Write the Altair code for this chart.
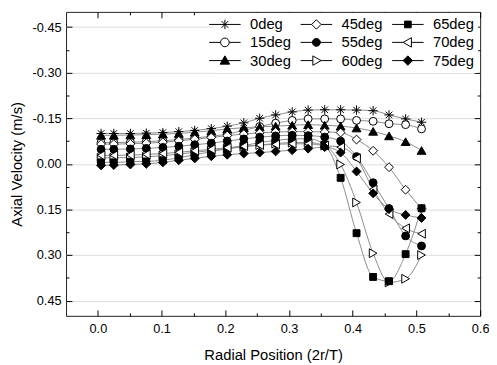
import altair as alt
import pandas as pd

# ---------------- data ----------------
x_pos = [0.005, 0.025, 0.051, 0.076, 0.102, 0.127, 0.152, 0.178, 0.203, 0.229, 0.254,
         0.279, 0.305, 0.330, 0.356, 0.381, 0.406, 0.432, 0.457, 0.483, 0.508]

series_names = ["0deg", "15deg", "30deg", "45deg", "55deg", "60deg", "65deg", "70deg", "75deg"]

v_0deg = [-0.100, -0.100, -0.100, -0.101, -0.103, -0.106, -0.110, -0.116, -0.124, -0.135, -0.150,
          -0.161, -0.171, -0.177, -0.178, -0.178, -0.177, -0.175, -0.161, -0.148, -0.137]
v_15deg = [-0.070, -0.070, -0.071, -0.073, -0.076, -0.080, -0.085, -0.091, -0.098, -0.110, -0.123,
           -0.134, -0.143, -0.148, -0.148, -0.148, -0.143, -0.140, -0.132, -0.129, -0.115]
v_30deg = [-0.094, -0.094, -0.095, -0.096, -0.098, -0.100, -0.104, -0.109, -0.115, -0.119, -0.122,
           -0.124, -0.127, -0.129, -0.127, -0.124, -0.118, -0.107, -0.092, -0.073, -0.044]
v_45deg = [-0.065, -0.065, -0.066, -0.068, -0.071, -0.076, -0.081, -0.087, -0.093, -0.098, -0.102,
           -0.105, -0.106, -0.106, -0.105, -0.103, -0.080, -0.043, 0.011, 0.085, 0.147]
v_55deg = [-0.048, -0.048, -0.049, -0.051, -0.054, -0.058, -0.063, -0.068, -0.075, -0.082, -0.088,
           -0.092, -0.094, -0.093, -0.088, -0.075, -0.024, 0.062, 0.147, 0.237, 0.270]
v_60deg = [-0.020, -0.020, -0.021, -0.023, -0.027, -0.032, -0.038, -0.044, -0.050, -0.056, -0.062,
           -0.067, -0.070, -0.070, -0.060, 0.002, 0.127, 0.294, 0.390, 0.378, 0.300]
v_65deg = [-0.005, -0.005, -0.007, -0.008, -0.012, -0.020, -0.030, -0.040, -0.050, -0.060, -0.070,
           -0.077, -0.082, -0.083, -0.062, 0.046, 0.228, 0.372, 0.386, 0.297, 0.146]
v_70deg = [-0.028, -0.028, -0.029, -0.031, -0.034, -0.038, -0.043, -0.048, -0.053, -0.058, -0.062,
           -0.064, -0.066, -0.066, -0.060, -0.055, -0.018, 0.084, 0.165, 0.212, 0.230]
v_75deg = [0.005, 0.004, 0.002, 0.000, -0.005, -0.012, -0.018, -0.025, -0.030, -0.034, -0.037,
           -0.041, -0.045, -0.050, -0.055, -0.037, 0.025, 0.097, 0.149, 0.168, 0.178]

x_ticks = [0.0, 0.1, 0.2, 0.3, 0.4, 0.5, 0.6]
x_minor = [0.05, 0.15, 0.25, 0.35, 0.45, 0.55]
y_ticks = [-0.45, -0.30, -0.15, 0.00, 0.15, 0.30, 0.45]
y_minor = [-0.375, -0.225, -0.075, 0.075, 0.225, 0.375]

all_values = [v_0deg, v_15deg, v_30deg, v_45deg, v_55deg, v_60deg, v_65deg, v_70deg, v_75deg]
rows = []
for name, vals in zip(series_names, all_values):
    for xv, yv in zip(x_pos, vals):
        rows.append({"series": name, "r": xv, "v": yv})
df = pd.DataFrame(rows)

# ---------------- styling ----------------
FONT = "Liberation Sans"
W, H = 421, 309

STAR = "M0,-1L0,1M-1,0L1,0M-0.7,-0.7L0.7,0.7M-0.7,0.7L0.7,-0.7"
marker = {
    "0deg": (STAR, "none", 90),
    "15deg": ("circle", "white", 64),
    "30deg": ("triangle-up", "black", 81),
    "45deg": ("diamond", "white", 81),
    "55deg": ("circle", "black", 64),
    "60deg": ("triangle-right", "white", 81),
    "65deg": ("square", "black", 49),
    "70deg": ("triangle-left", "white", 81),
    "75deg": ("diamond", "black", 81),
}

legend_path = {
    "0deg": "M-4,0L4,0M0,-1.2L0,1.2M-0.85,-0.85L0.85,0.85M-0.85,0.85L0.85,-0.85",
    "15deg": "M-4,0L-1.1,0M1.1,0L4,0M1.1,0A1.1,1.1,0,1,1,-1.1,0A1.1,1.1,0,1,1,1.1,0Z",
    "30deg": "M-4,0L4,0M0,-1.2L1.2,0.9L-1.2,0.9Z",
    "45deg": "M-4,0L-1.2,0M1.2,0L4,0M0,-1.2L1.2,0L0,1.2L-1.2,0Z",
    "55deg": "M-4,0L4,0M1,0A1,1,0,1,1,-1,0A1,1,0,1,1,1,0Z",
    "60deg": "M-4,0L-0.9,0M1.2,0L4,0M-0.9,-1.2L1.2,0L-0.9,1.2Z",
    "65deg": "M-4,0L4,0M-0.85,-0.85L0.85,-0.85L0.85,0.85L-0.85,0.85Z",
    "70deg": "M-4,0L-1.2,0M0.9,0L4,0M0.9,-1.2L-1.2,0L0.9,1.2Z",
    "75deg": "M-4,0L4,0M0,-1.2L1.2,0L0,1.2L-1.2,0Z",
}
legend_order = series_names

xs = alt.Scale(domain=[-0.05, 0.6], nice=False, zero=False)
ys = alt.Scale(domain=[-0.5, 0.5], reverse=True, nice=False, zero=False)

def tick_axis(orient, offset, values, size):
    return alt.Axis(orient=orient, offset=offset, values=values, ticks=True, tickSize=size,
                    tickColor="black", tickWidth=1, labels=False, domain=False, grid=False,
                    title=None)

ax_x_lab = alt.Axis(orient="bottom", values=x_ticks, format=".1f", ticks=False, domain=False,
                    grid=False, labelFont=FONT, labelFontSize=13, labelColor="black",
                    labelPadding=7, labelFlush=False, labelOverlap=False,
                    title="Radial Position (2r/T)", titleFont=FONT, titleFontSize=15,
                    titleFontWeight="normal", titleColor="black", titlePadding=12)
ax_y_lab = alt.Axis(orient="left", values=y_ticks, format=".2f",
                    labelExpr="replace(datum.label, '\u2212', '-')",
                    ticks=False, domain=False, grid=True, gridColor="#dcdcdc", gridWidth=1,
                    labelFont=FONT, labelFontSize=13, labelColor="black", labelPadding=5,
                    labelFlush=False, labelOverlap=False,
                    title="Axial Velocity (m/s)", titleFont=FONT, titleFontSize=15,
                    titleFontWeight="normal", titleColor="black", titlePadding=8)

axis_pairs = [
    (tick_axis("top", -H, x_ticks, 6), tick_axis("right", -W, y_ticks, 6)),
    (tick_axis("top", -H, x_minor, 3), tick_axis("right", -W, y_minor, 3)),
    (tick_axis("bottom", -H, x_ticks, 6), tick_axis("left", -W, y_ticks, 6)),
    (tick_axis("bottom", -H, x_minor, 3), tick_axis("left", -W, y_minor, 3)),
]

base = alt.Chart(df)

lines = base.mark_line(color="#8a8a8a", strokeWidth=1, interpolate="monotone").encode(
    x=alt.X("r:Q", scale=xs, axis=ax_x_lab),
    y=alt.Y("v:Q", scale=ys, axis=ax_y_lab),
    detail="series:N",
)

layers = [lines]
for i, name in enumerate(series_names):
    shape, fill, size = marker[name]
    if i < len(axis_pairs):
        axx, axy = axis_pairs[i]
    else:
        axx, axy = None, None
    pts = base.transform_filter(alt.datum.series == name).mark_point(
        shape=shape, fill=fill, stroke="black", strokeWidth=1, size=size, opacity=1,
        fillOpacity=1, strokeOpacity=1,
    ).encode(
        x=alt.X("r:Q", scale=xs, axis=axx),
        y=alt.Y("v:Q", scale=ys, axis=axy),
    )
    layers.append(pts)

legend_kw = dict(title=None, orient="none", legendX=150, legendY=1, columns=3,
                 symbolSize=64, symbolStrokeWidth=1, symbolStrokeColor="black",
                 labelFont=FONT, labelFontSize=15, labelColor="black", labelOffset=18,
                 columnPadding=7, rowPadding=2.5, padding=4, fillColor="white")

legend_layer = base.transform_filter("false").mark_point(
    strokeWidth=1, opacity=1, size=64
).encode(
    x=alt.X("r:Q", scale=xs, axis=None),
    y=alt.Y("v:Q", scale=ys, axis=None),
    shape=alt.Shape("series:N",
                    scale=alt.Scale(domain=legend_order,
                                    range=[legend_path[n] for n in legend_order]),
                    legend=alt.Legend(**legend_kw)),
    fill=alt.Fill("series:N",
                  scale=alt.Scale(domain=legend_order,
                                  range=[marker[n][1] if marker[n][1] != "none" else "white"
                                         for n in legend_order]),
                  legend=alt.Legend(**legend_kw)),
    stroke=alt.Stroke("series:N",
                      scale=alt.Scale(domain=legend_order,
                                      range=["black"] * len(legend_order)),
                      legend=alt.Legend(**legend_kw)),
)
layers.append(legend_layer)

chart = alt.layer(*layers).resolve_axis(x="independent", y="independent").properties(
    width=W, height=H,
    padding={"left": 59, "top": 1, "right": 9, "bottom": 46},
    autosize=alt.AutoSizeParams(type="none"),
    background="white",
).configure_view(stroke="#222222", strokeWidth=1)

chart.save("out.html", embed_options={"renderer": "svg", "actions": False})
